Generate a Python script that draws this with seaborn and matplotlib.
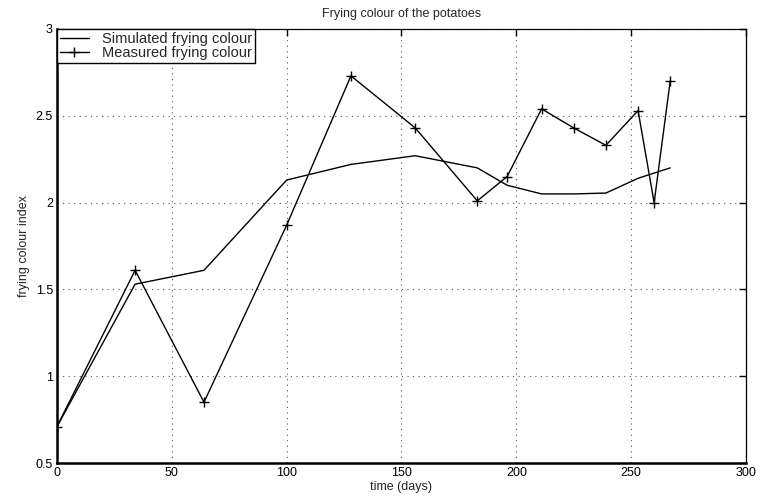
import pandas as pd
import seaborn as sns
import matplotlib.pyplot as plt

days = [0, 34, 64, 100, 128, 156, 183, 196, 211, 225, 239, 253, 260, 267]
simulated = [0.71, 1.53, 1.61, 2.13, 2.22, 2.27, 2.20, 2.10, 2.05, 2.05, 2.055, 2.14, 2.17, 2.20]
measured = [0.71, 1.61, 0.85, 1.87, 2.73, 2.43, 2.01, 2.15, 2.54, 2.43, 2.33, 2.53, 2.00, 2.70]

df = pd.DataFrame({"days": days, "sim": simulated, "meas": measured})

sns.set_theme(style="white")
plt.rcParams["font.family"] = ["Liberation Sans", "DejaVu Sans"]

fig = plt.figure(figsize=(7.62, 5.0), dpi=100)
ax = fig.add_axes([0.0748, 0.074, 0.9042, 0.868])

sns.lineplot(data=df, x="days", y="sim", color="black", linewidth=1.0,
             label="Simulated frying colour", ax=ax)
sns.lineplot(data=df, x="days", y="meas", color="black", linewidth=1.0,
             marker="+", markersize=7.5, markeredgewidth=1.0,
             markeredgecolor="black", markerfacecolor="black",
             label="Measured frying colour", ax=ax)

ax.set_xlim(0, 300)
ax.set_ylim(0.5, 3)
ax.set_xticks(range(0, 301, 50))
ax.set_yticks([0.5, 1, 1.5, 2, 2.5, 3])
ax.set_yticklabels(["0.5", "1", "1.5", "2", "2.5", "3"])
ax.grid(True, color="#555555", linestyle=(0, (1, 4)), linewidth=0.8)
ax.tick_params(direction="in", length=5, width=1, top=True, right=True,
               labelsize=9, colors="black", pad=3)
# thick left/bottom, thin top/right like the old matlab export
for side in ["left", "bottom"]:
    ax.spines[side].set_linewidth(1.8)
for side in ["top", "right"]:
    ax.spines[side].set_linewidth(0.9)
for s in ax.spines.values():
    s.set_color("black")

ax.set_xlabel("time (days)", fontsize=9, labelpad=1)
ax.set_ylabel("frying colour index", fontsize=9, labelpad=4)
ax.set_title("Frying colour of the potatoes", fontsize=9, pad=9)

leg = ax.legend(loc="upper left", frameon=True, fancybox=False, fontsize=10.5,
                borderaxespad=0, handlelength=2.0, borderpad=0.2,
                labelspacing=0.0, handletextpad=0.9, framealpha=1)
leg.get_frame().set_edgecolor("black")
leg.get_frame().set_linewidth(1.0)

fig.savefig("out.png", dpi=100)
